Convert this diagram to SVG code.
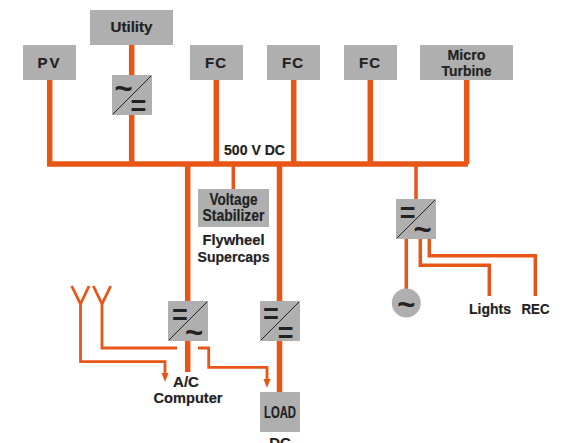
<svg xmlns="http://www.w3.org/2000/svg" width="562" height="443" viewBox="0 0 562 443">
<style>
.box{fill:#afafaf}
.t{font-family:"Liberation Sans",Arial,sans-serif;font-weight:700;font-size:15px;fill:#222;text-anchor:middle;stroke:#222;stroke-width:.2}
.b{font-size:16px}
.s{font-family:"Liberation Sans",Arial,sans-serif;font-weight:700;fill:#222;text-anchor:middle;font-size:27px}
.g{font-size:31px}
.d{stroke:#222;stroke-width:1;fill:none}
.w{fill:none;stroke:#e85617;stroke-width:5.5}
.m{fill:none;stroke:#e85617;stroke-width:3.5}
.n{fill:none;stroke:#e85617;stroke-width:2.8}
.h{fill:#e85617}
</style>
<defs>
<marker id="a" markerUnits="userSpaceOnUse" markerWidth="10" markerHeight="8" refX="1" refY="3.5" orient="auto"><path d="M0 0L9 3.5L0 7Z" class="h"/></marker>
</defs>
<g id="connectors">
<path class="w" d="M49.7 80V164M47 164H468M131.7 45V164M216.3 80V164M293.7 80V164M370.3 80V164M466.7 80V164M187.7 164V372M279.5 164V392"/>
<path class="m" d="M233.3 164V189M416 164V199M406.3 239V290M420.3 239V265.3H489.3V296M429.3 239V255.7H535.3V296"/>
<path class="n" d="M71.7 286L80.5 304L89 286M80.5 304V361.7H165V374" marker-end="url(#a)"/>
<path class="n" d="M93.3 286L102 304L110.7 286M102 304V348H177"/>
<path class="n" d="M198 348H208.7V367.3H267V380" marker-end="url(#a)"/>
</g>
<g id="pv"><rect class="box" x="23" y="45" width="53" height="35"/><text class="t" x="49.5" y="67.5" letter-spacing="2">PV</text></g>
<g id="utility"><rect class="box" x="90" y="10" width="83" height="35"/><text class="t" x="131.5" y="32" textLength="42" lengthAdjust="spacingAndGlyphs">Utility</text></g>
<g id="fc1"><rect class="box" x="190" y="45" width="53" height="35"/><text class="t" x="216" y="67.5" letter-spacing="1">FC</text></g>
<g id="fc2"><rect class="box" x="267" y="45" width="53" height="35"/><text class="t" x="293" y="67.5" letter-spacing="1">FC</text></g>
<g id="fc3"><rect class="box" x="344" y="45" width="53" height="35"/><text class="t" x="370" y="67.5" letter-spacing="1">FC</text></g>
<g id="micro-turbine"><rect class="box" x="420" y="45" width="93" height="35"/><text class="t" x="466.5" y="60" textLength="38" lengthAdjust="spacingAndGlyphs">Micro</text><text class="t" x="466.5" y="76" textLength="50" lengthAdjust="spacingAndGlyphs">Turbine</text></g>
<g id="conv-utility"><rect class="box" x="112" y="75" width="40" height="40"/><path class="d" d="M113 114L151 76"/><text class="s g" x="123.5" y="99">~</text><text class="s" x="138.3" y="115">=</text></g>
<g id="voltage-stabilizer"><rect class="box" x="198" y="189" width="71" height="38"/><text class="t b" x="233.5" y="205" textLength="48" lengthAdjust="spacingAndGlyphs">Voltage</text><text class="t b" x="233.5" y="221" textLength="62" lengthAdjust="spacingAndGlyphs">Stabilizer</text></g>
<g id="conv-right"><rect class="box" x="396" y="199" width="40" height="40"/><path class="d" d="M397 238L435 200"/><text class="s" x="407.7" y="222">=</text><text class="s g" x="422.5" y="240">~</text></g>
<g id="conv-ac"><rect class="box" x="168" y="301" width="40" height="40"/><path class="d" d="M169 340L207 302"/><text class="s" x="180" y="323.5">=</text><text class="s g" x="194" y="342.5">~</text></g>
<g id="conv-dc"><rect class="box" x="260" y="301" width="40" height="40"/><path class="d" d="M261 340L299 302"/><text class="s" x="271" y="323">=</text><text class="s" x="285.7" y="341.7">=</text></g>
<g id="load"><rect class="box" x="260" y="392" width="40" height="40"/><text class="t b" x="280" y="418" textLength="32" lengthAdjust="spacingAndGlyphs">LOAD</text></g>
<g id="generator"><circle class="box" cx="406.3" cy="303" r="14.5"/><text class="s g" x="406.3" y="314.5">~</text></g>
<g id="labels">
<text class="t" x="254.5" y="155" textLength="61" lengthAdjust="spacingAndGlyphs">500 V DC</text>
<text class="t" x="233.5" y="245" textLength="62" lengthAdjust="spacingAndGlyphs">Flywheel</text>
<text class="t" x="233.5" y="262" textLength="72" lengthAdjust="spacingAndGlyphs">Supercaps</text>
<text class="t" x="186" y="387" textLength="26" lengthAdjust="spacingAndGlyphs">A/C</text>
<text class="t" x="188" y="403" textLength="69" lengthAdjust="spacingAndGlyphs">Computer</text>
<text class="t" x="490" y="314" textLength="42" lengthAdjust="spacingAndGlyphs">Lights</text>
<text class="t" x="535.5" y="314" textLength="28" lengthAdjust="spacingAndGlyphs">REC</text>
<text class="t" x="280" y="448">DC</text>
</g>
</svg>
